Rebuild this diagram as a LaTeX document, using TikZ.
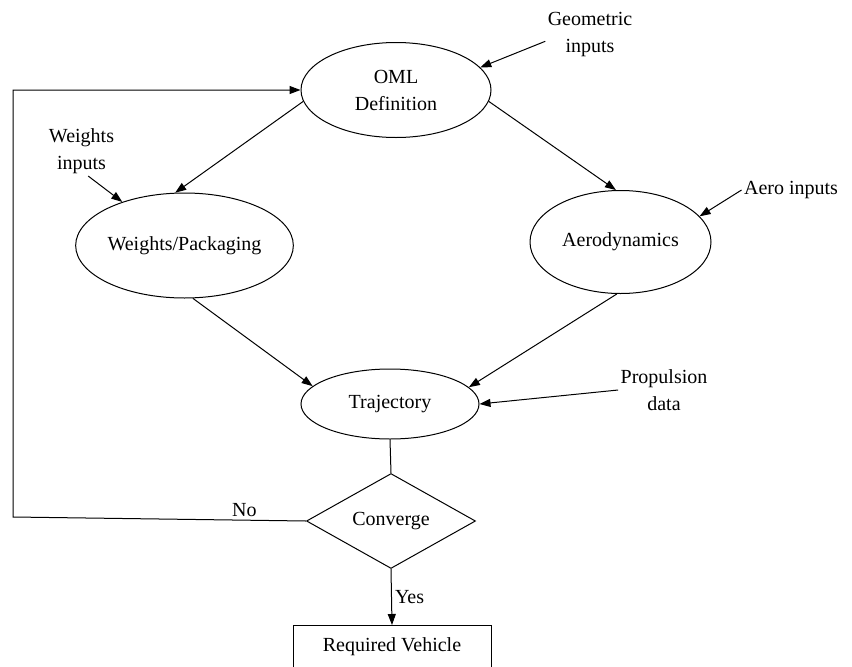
\documentclass[tikz,border=0pt]{standalone}
\usepackage{fontspec}
\setmainfont{Liberation Serif}
\usetikzlibrary{
  shapes.geometric,
  arrows.meta
}
\tikzset{
  ->,
  >={Triangle[length=11pt,width=8pt]},
  every node/.style={font=\fontsize{20}{27}\selectfont, align=center, inner sep=3pt},
  module/.style={draw, ellipse, inner sep=0pt},
  check/.style={draw, diamond, inner sep=0pt, minimum width=169pt, minimum height=74pt},
  result/.style={draw, rectangle, anchor=north, minimum width=198pt, inner sep=6pt, text height=20pt, text depth=34pt},
  source/.style={inner sep=2pt}
}

\begin{document}
\begin{tikzpicture}[x=1pt, y=-1pt, line width=1pt]
    \useasboundingbox (0,0) rectangle (852,667);
    \node[module, minimum width=190pt, minimum height=95pt] (oml) at (396,90) {OML\\Definition};
    \node[module, minimum width=217pt, minimum height=105pt] (wp) at (184.5,245.5) {Weights/Packaging};
    \node[module, minimum width=181pt, minimum height=103pt] (aero) at (620.5,242) {Aerodynamics};
    \node[module, minimum width=178pt, minimum height=70pt] (traj) at (390,404) {Trajectory};
    \node[check] (conv) at (391,521) {Converge};
    \node[result] (veh) at (392,625) {Required Vehicle};
    \node[source] (geo) at (590,35) {Geometric\\inputs};
    \node[source] (wtin) at (81.5,151) {Weights\\inputs};
    \node[source] (aeroin) at (791,190) {Aero inputs};
    \node[source] (prop) at (664,390) {Propulsion\\data};
    \coordinate (back) at (13,517);
    \draw (oml.187) -- (wp.100);
    \draw (oml.353) -- (aero.95);
    \draw (wp.279) -- (traj.167);
    \draw (aero.266) -- (traj.12);
    \draw (geo.188) -- (oml.15);
    \draw (wtin.285) -- (wp.145);
    \draw (aeroin.west) -- (aero.18);
    \draw (prop.west) -- (traj.east);
    \draw[-] (traj.south) -- (conv.north);
    \draw (conv.south) -- node[right]{Yes} (veh.north);
    \draw (conv.west) -- node[pos=0.21, above]{No} (back) |- (oml.west);
  \end{tikzpicture}
\end{document}
